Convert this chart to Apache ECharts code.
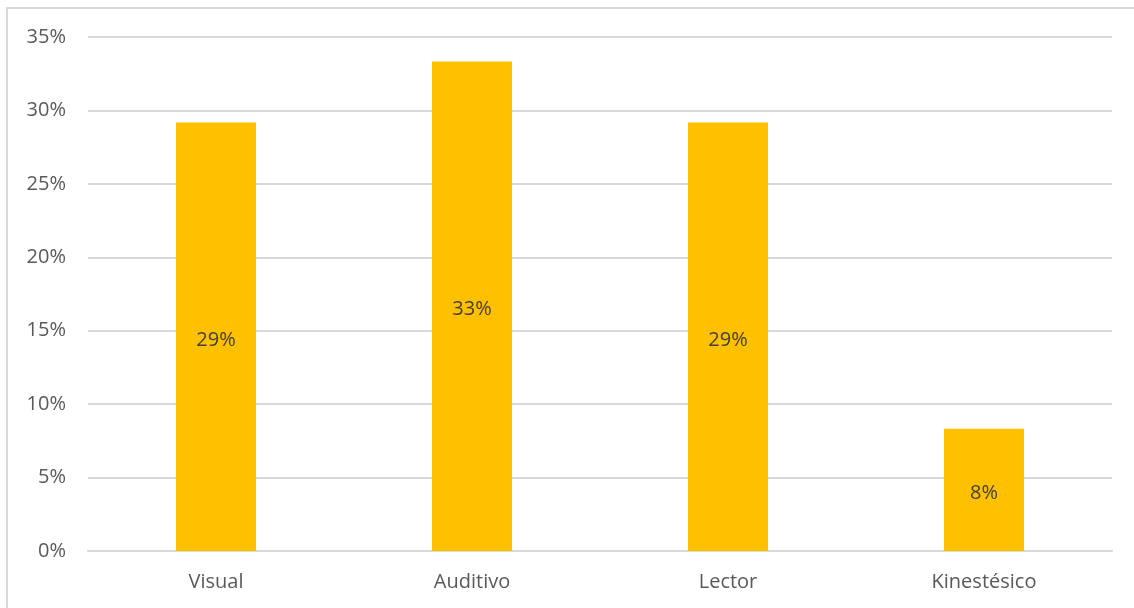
<!DOCTYPE html>
<html>
<head>
<meta charset="utf-8">
<script src="https://cdn.jsdelivr.net/npm/echarts@6/dist/echarts.min.js"></script>
<style>
html,body{margin:0;padding:0;background:#fff;}
#chart{width:1134px;height:608px;}
</style>
</head>
<body>
<div id="chart"></div>
<script>
const categories = ['Visual', 'Auditivo', 'Lector', 'Kinestésico'];
const values = [29.17, 33.33, 29.17, 8.33];
const yTicks = [0, 5, 10, 15, 20, 25, 30, 35];

const chart = echarts.init(document.getElementById('chart'), null, {renderer: 'canvas'});
const font = '"Open Sans", "Liberation Sans", sans-serif';
chart.setOption({
  animation: false,
  graphic: [{
    type: 'rect',
    shape: {x: 7, y: 8, width: 1140, height: 620},
    style: {fill: 'none', stroke: '#d9d9d9', lineWidth: 2},
    silent: true
  }],
  grid: {left: 88, right: 22, top: 37, bottom: 57, containLabel: false},
  xAxis: {
    type: 'category',
    data: categories,
    axisLine: {show: true, lineStyle: {color: '#d9d9d9', width: 2}},
    axisTick: {show: false},
    axisLabel: {color: '#595959', fontSize: 20, fontFamily: font, margin: 21}
  },
  yAxis: {
    type: 'value',
    min: yTicks[0],
    max: yTicks[yTicks.length - 1],
    interval: 5,
    axisLine: {show: false},
    axisTick: {show: false},
    splitLine: {lineStyle: {color: '#d9d9d9', width: 2}},
    axisLabel: {color: '#595959', fontSize: 20, fontFamily: font, margin: 22,
      formatter: v => v + '%'}
  },
  series: [{
    type: 'bar',
    data: values,
    barWidth: 80,
    itemStyle: {color: '#FFC000'},
    label: {
      show: true,
      position: 'inside',
      offset: [0, 3],
      color: '#404040',
      fontSize: 20,
      fontFamily: font,
      formatter: p => Math.round(p.value) + '%'
    }
  }]
});
</script>
</body>
</html>
